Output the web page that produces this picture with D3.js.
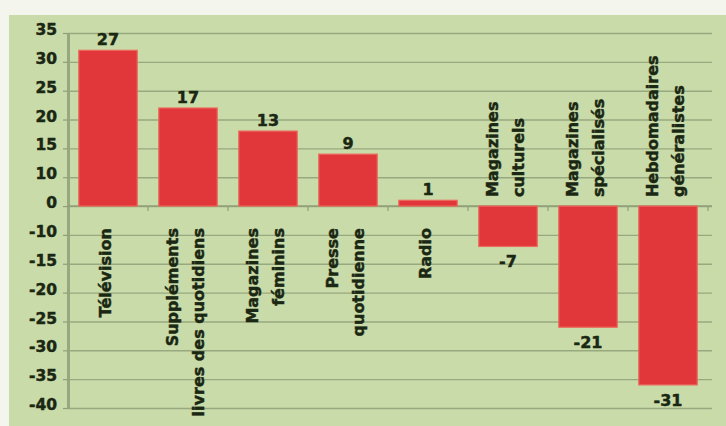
<!DOCTYPE html>
<html>
<head>
<meta charset="utf-8">
<script src="https://cdn.jsdelivr.net/npm/d3@7/dist/d3.min.js"></script>
<style>
  html, body { margin: 0; padding: 0; background: #f4f6ee; }
  svg { display: block; }
  text { font-family: "DejaVu Sans", sans-serif; font-weight: bold; fill: #1a2712; stroke: #1a2712; stroke-width: 0.45px; }
</style>
</head>
<body>
<svg id="chart" width="726" height="426"></svg>
<script>
// Évolution par média (points)
const categories = [
  "Télévision",
  "Suppléments\nlivres des quotidiens",
  "Magazines\nféminins",
  "Presse\nquotidienne",
  "Radio",
  "Magazines\nculturels",
  "Magazines\nspécialisés",
  "Hebdomadaires\ngénéralistes"
];
const values = [27, 17, 13, 9, 1, -7, -21, -31];

// Graduations de l'axe vertical et leurs libellés
const yTickValues = [30, 25, 20, 15, 10, 5, 0, -5, -10, -15, -20, -25, -30, -35];
const yTickLabels = ["35", "30", "25", "20", "15", "10", "0", "-10", "-15", "-20", "-25", "-30", "-35", "-40"];

const svg = d3.select("#chart");
const W = 726, H = 426;
const plotLeft = 68, plotRight = 708, plotTop = 33, plotBottom = 408;

// fond du panneau
svg.append("rect").attr("x", 0).attr("y", 0).attr("width", W).attr("height", H).attr("fill", "#f4f6ee");
svg.append("rect").attr("x", 9).attr("y", 15).attr("width", W - 9).attr("height", H - 15).attr("fill", "#c9dba9");

const y = d3.scaleLinear().domain([-35, 30]).range([plotBottom, plotTop]);
const x = d3.scaleBand().domain(categories).range([plotLeft, plotRight]).paddingInner(0.27).paddingOuter(0.135);

// quadrillage horizontal
const grid = svg.append("g").attr("transform", `translate(${plotLeft},0)`)
  .call(d3.axisLeft(y).tickValues(yTickValues).tickSize(-(plotRight + 4 - plotLeft)).tickFormat(""));
grid.select(".domain").remove();
grid.selectAll(".tick line").attr("stroke", "#98a97f").attr("stroke-width", 1.4);

// axe vertical
const yAxis = svg.append("g").attr("transform", `translate(${plotLeft},0)`)
  .call(d3.axisLeft(y).tickValues(yTickValues).tickFormat((d, i) => yTickLabels[i]).tickSize(5).tickSizeOuter(0).tickPadding(6));
yAxis.select(".domain").attr("stroke", "#97a880").attr("stroke-width", 3);
yAxis.selectAll(".tick line").attr("stroke", "#8e9f78").attr("stroke-width", 1.2);
yAxis.selectAll(".tick text")
  .attr("font-family", "DejaVu Sans")
  .attr("font-weight", "bold")
  .attr("font-size", 15.5)
  .attr("fill", "#1a2712")
  .attr("dy", "0.1em");

// axe horizontal au niveau zéro
const y0 = y(0);
svg.append("line").attr("x1", plotLeft).attr("x2", plotRight + 4).attr("y1", y0).attr("y2", y0)
  .attr("stroke", "#8e9f78").attr("stroke-width", 1.5);
const step = x.step();
svg.append("g").selectAll("line")
  .data(d3.range(1, categories.length + 1))
  .join("line")
  .attr("x1", i => plotLeft + i * step).attr("x2", i => plotLeft + i * step)
  .attr("y1", y0).attr("y2", y0 + 5)
  .attr("stroke", "#8e9f78").attr("stroke-width", 1.2);

// barres
svg.append("g").selectAll("rect")
  .data(values)
  .join("rect")
  .attr("x", (d, i) => x(categories[i]))
  .attr("width", x.bandwidth())
  .attr("y", d => y(Math.max(0, d)))
  .attr("height", d => Math.abs(y(d) - y0))
  .attr("fill", "#e1363a")
  .attr("stroke", "#ec6a5c")
  .attr("stroke-width", 1.2);

// valeurs
svg.append("g").selectAll("text")
  .data(values)
  .join("text")
  .attr("x", (d, i) => x(categories[i]) + x.bandwidth() / 2)
  .attr("y", d => d >= 0 ? y(d) - 5 : y(d) + 21)
  .attr("text-anchor", "middle")
  .attr("font-size", 16)
  .text(d => String(d));

// libellés des catégories, verticaux
const lineGap = 26;
categories.forEach((c, i) => {
  const lines = c.split("\n");
  const cx = x(c) + x.bandwidth() / 2;
  const v = values[i];
  lines.forEach((ln, j) => {
    const vis = cx + (j - (lines.length - 1) / 2) * lineGap - 3;
    const bx = vis + 5.5;
    const by = v >= 0 ? y0 + 22 : y0 - 9;
    svg.append("text")
      .attr("transform", `translate(${bx},${by}) rotate(-90)`)
      .attr("text-anchor", v >= 0 ? "end" : "start")
      .attr("font-size", 16)
      .text(ln);
  });
});
</script>
</body>
</html>
